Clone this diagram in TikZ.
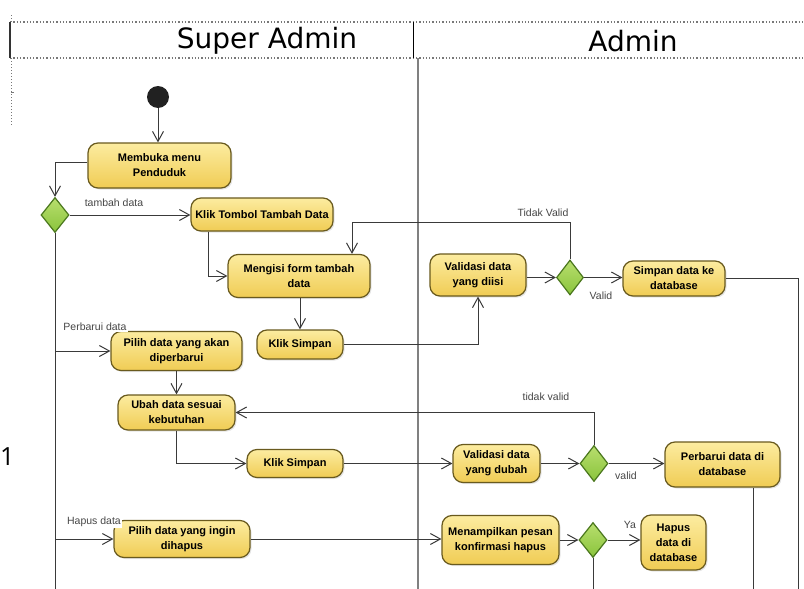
\documentclass[tikz,border=0pt]{standalone}
\usepackage{fontspec}
\setmainfont{Liberation Sans}
\newfontfamily\headfont{DejaVu Sans}
\newfontfamily\onefont{Open Sans}
\usetikzlibrary{arrows.meta,shapes.geometric,shadows}
\definecolor{actTop}{RGB}{252,236,160}
\definecolor{actBot}{RGB}{240,204,84}
\definecolor{actBorder}{RGB}{105,90,30}
\definecolor{decTop}{RGB}{184,222,110}
\definecolor{decBot}{RGB}{138,196,60}
\definecolor{decBorder}{RGB}{75,120,30}
\definecolor{lineCol}{RGB}{58,58,58}
\definecolor{lblCol}{RGB}{70,70,70}
\definecolor{laneCol}{RGB}{128,128,128}
\definecolor{dotCol}{RGB}{120,120,120}
\tikzset{
  act/.style={rectangle, rounded corners=10pt, draw=actBorder, line width=1.2pt,
    top color=actTop, bottom color=actBot, inner sep=2pt, align=center,
    font=\fontsize{11}{15}\selectfont\bfseries, text=black,
    drop shadow={opacity=0.2, shadow xshift=1.5pt, shadow yshift=-1.5pt}},
  dec/.style={diamond, draw=decBorder, line width=1.2pt, top color=decTop,
    bottom color=decBot, inner sep=0pt, minimum width=28pt, minimum height=35pt},
  lbl/.style={font=\fontsize{10.5}{12}\selectfont, text=lblCol, inner sep=1pt},
  flow/.style={draw=lineCol, line width=1pt, -{Straight Barb[length=10pt,width=11pt]}},
  ln/.style={draw=lineCol, line width=1pt},
  headtxt/.style={font=\headfont\fontsize{28}{30}\selectfont, text=black}
}
\begin{document}
\begin{tikzpicture}[x=1pt,y=-1pt]
\useasboundingbox (0,0) rectangle (804,589);
\fill[white] (0,0) rectangle (804,589);
% header / swimlanes
\draw[dotCol, dotted, line width=1.3pt] (10,22) -- (804,22);
\draw[dotCol, dotted, line width=1.3pt] (10,58) -- (804,58);
\draw[dotCol, dotted, line width=1pt] (11,15) -- (11,22);
\draw[dotCol, dotted, line width=1pt] (11,58) -- (11,125);
\draw[dotCol, line width=0.8pt] (11,92) -- (14,92);
\draw[black!80, line width=2pt] (10,22) -- (10,58);
\draw[black, line width=1pt] (413,22) -- (413,58);
\draw[laneCol, line width=2.5pt] (418,58) -- (418,589);
\node[headtxt] (hsa) at (267,41) {Super Admin};
\node[headtxt] (had) at (633,41) {Admin};
\node[font=\onefont\fontsize{25}{27}\selectfont, anchor=west, inner sep=0pt] (one) at (0,457) {1};

% start
\node[circle, fill=black!87, minimum size=22pt, inner sep=0pt] (start) at (158,97) {};

% activities
\node[act, minimum width=143pt, minimum height=45pt] (mem) at (159.5,165.5) {Membuka menu\\Penduduk};
\node[dec] (d1) at (55,215) {};
\node[act, minimum width=142pt, minimum height=33pt] (ktt) at (262,214.5) {Klik Tombol Tambah Data};
\node[act, minimum width=142pt, minimum height=43pt] (meng) at (299,276) {Mengisi form tambah\\data};
\node[act, minimum width=86pt, minimum height=29pt] (ks1) at (300,344.5) {Klik Simpan};
\node[act, minimum width=96pt, minimum height=42pt] (val1) at (478,275) {Validasi data\\yang diisi};
\node[dec, minimum width=27pt] (d2) at (570,277.5) {};
\node[act, minimum width=102pt, minimum height=35pt] (simp) at (674,278.5) {Simpan data ke\\database};

\node[act, minimum width=131pt, minimum height=39pt] (pil1) at (176.5,351) {Pilih data yang akan\\diperbarui};
\node[act, minimum width=117pt, minimum height=35pt] (ubah) at (176.5,412.5) {Ubah data sesuai\\kebutuhan};
\node[act, minimum width=96pt, minimum height=28pt] (ks2) at (295,463.5) {Klik Simpan};
\node[act, minimum width=87pt, minimum height=38pt] (val2) at (496.5,463.5) {Validasi data\\yang dubah};
\node[dec, minimum height=36pt] (d3) at (594,463.5) {};
\node[act, minimum width=115pt, minimum height=45pt] (perb) at (722.5,464.5) {Perbarui data di\\database};

\node[act, minimum width=136pt, minimum height=37pt] (pil2) at (182,539) {Pilih data yang ingin\\dihapus};
\node[act, minimum width=117pt, minimum height=49pt] (tamp) at (500.5,540) {Menampilkan pesan\\konfirmasi hapus};
\node[dec] (d4) at (593,540) {};
\node[act, minimum width=65pt, minimum height=55pt] (hap) at (673.5,542.5) {Hapus\\data di\\database};

% coordinates for loose ends
\coordinate (e0) at (55,589);
\coordinate (e1) at (798,589);
\coordinate (e2) at (753,589);
\coordinate (e3) at (593,589);
\coordinate (tv) at (352,222);
\coordinate (kx) at (208,0);
\coordinate (ux) at (176,0);
\coordinate (my) at (0,162);

% connectors
\draw[flow] (start) -- (start |- mem.north);
\draw[flow] (mem.west |- my) -| (d1.north);
\draw[flow] (d1.east) -- (d1.east -| ktt.west);
\draw[flow] (kx |- ktt.south) |- (meng.west);
\draw[flow] (meng.south -| ks1.north) -- (ks1.north);
\draw[flow] (ks1.east) -| (val1.south);
\draw[flow] (val1.east |- d2.west) -- (d2.west);
\draw[flow] (d2.east) -- (d2.east -| simp.west);
\draw[flow] (d2.north) |- (tv) -- (tv |- meng.north);
\draw[ln] (simp.east) -| (e1);
\draw[ln] (d1.south) -- (e0);
\draw[flow] (d1.south |- pil1.west) -- (pil1.west);
\draw[flow] (pil1.south) -- (ubah.north);
\draw[flow] (d3.north) |- (ubah.east);
\draw[flow] (ux |- ubah.south) |- (ks2.west);
\draw[flow] (ks2.east) -- (val2.west);
\draw[flow] (val2.east) -- (d3.west);
\draw[flow] (d3.east) -- (d3.east -| perb.west);
\draw[ln] (perb.south -| e2) -- (e2);
\draw[flow] (d1.south |- pil2.west) -- (pil2.west);
\draw[flow] (pil2.east) -- (pil2.east -| tamp.west);
\draw[flow] (tamp.east |- d4.west) -- (d4.west);
\draw[flow] (d4.east) -- (d4.east -| hap.west);
\draw[ln] (d4.south) -- (e3);

% labels
\node[lbl] (l1) at (114,203) {tambah data};
\node[lbl] (l2) at (543,213) {Tidak Valid};
\node[lbl] (l3) at (601,296) {Valid};
\node[lbl, fill=white] (l4) at (95,327) {Perbarui data};
\node[lbl] (l5) at (546,397) {tidak valid};
\node[lbl] (l6) at (626,476) {valid};
\node[lbl, fill=white] (l7) at (94,522) {Hapus data};
\node[lbl] (l8) at (630,525) {Ya};
\end{tikzpicture}
\end{document}
